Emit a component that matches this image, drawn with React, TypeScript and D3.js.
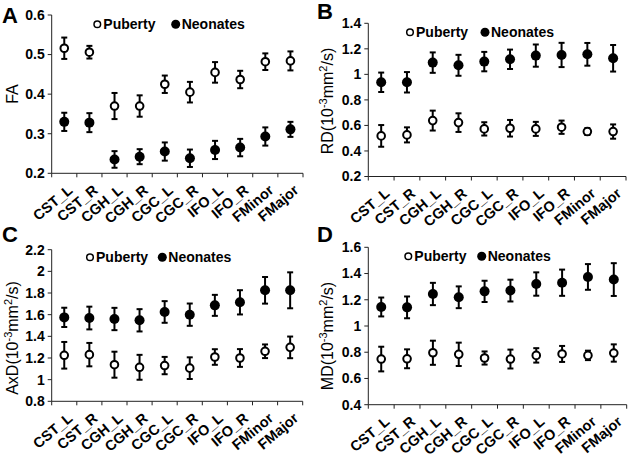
import React from "react";
import * as d3 from "d3";

const categories = ["CST_L", "CST_R", "CGH_L", "CGH_R", "CGC_L", "CGC_R", "IFO_L", "IFO_R", "FMinor", "FMajor"];

// Panel A: FA
const faPuberty = [0.516, 0.506, 0.370, 0.370, 0.425, 0.405, 0.455, 0.437, 0.482, 0.484];
const faPubertyErr = [0.027, 0.016, 0.033, 0.027, 0.022, 0.026, 0.026, 0.022, 0.021, 0.024];
const faNeonates = [0.330, 0.328, 0.235, 0.242, 0.255, 0.238, 0.259, 0.265, 0.293, 0.311];
const faNeonatesErr = [0.023, 0.024, 0.021, 0.019, 0.023, 0.022, 0.023, 0.022, 0.023, 0.019];

// Panel B: RD
const rdPuberty = [0.518, 0.526, 0.638, 0.622, 0.573, 0.578, 0.573, 0.586, 0.552, 0.552];
const rdPubertyErr = [0.085, 0.059, 0.078, 0.073, 0.052, 0.065, 0.055, 0.052, 0.027, 0.056];
const rdNeonates = [0.938, 0.938, 1.092, 1.071, 1.100, 1.118, 1.147, 1.152, 1.157, 1.126];
const rdNeonatesErr = [0.076, 0.080, 0.080, 0.082, 0.076, 0.076, 0.087, 0.095, 0.089, 0.104];

// Panel C: AxD
const axdPuberty = [1.225, 1.231, 1.138, 1.114, 1.130, 1.106, 1.209, 1.200, 1.262, 1.298];
const axdPubertyErr = [0.123, 0.108, 0.120, 0.115, 0.080, 0.100, 0.072, 0.082, 0.063, 0.100];
const axdNeonates = [1.575, 1.569, 1.560, 1.548, 1.625, 1.600, 1.686, 1.714, 1.825, 1.825];
const axdNeonatesErr = [0.089, 0.105, 0.103, 0.103, 0.100, 0.103, 0.097, 0.112, 0.123, 0.166];

// Panel D: MD
const mdPuberty = [0.748, 0.750, 0.796, 0.784, 0.756, 0.748, 0.776, 0.787, 0.776, 0.794];
const mdPubertyErr = [0.094, 0.072, 0.092, 0.089, 0.050, 0.072, 0.055, 0.061, 0.036, 0.066];
const mdNeonates = [1.145, 1.142, 1.244, 1.219, 1.264, 1.270, 1.320, 1.330, 1.374, 1.354];
const mdNeonatesErr = [0.072, 0.083, 0.085, 0.083, 0.081, 0.083, 0.089, 0.100, 0.098, 0.125];

const legendLabels = ["Puberty", "Neonates"];

const FONT = "'Liberation Sans', Arial, sans-serif";

type PanelProps = {
  letter: string;
  x0: number; x1: number; yTop: number; yBot: number;
  domain: [number, number];
  step: number;
  label: string;
  sup: boolean;
  labelX: number; labelY: number;
  puberty: number[]; pubertyErr: number[];
  neonates: number[]; neonatesErr: number[];
  legendX: number; legendY: number; legendGap: number;
  letterX: number; letterY: number;
};

function Panel(p: PanelProps) {
  const x = d3.scaleBand<string>().domain(categories).range([p.x0, p.x1]);
  const y = d3.scaleLinear().domain(p.domain).range([p.yBot, p.yTop]);
  const n = Math.round((p.domain[1] - p.domain[0]) / p.step);
  const ticks = d3.range(n + 1).map((i) => +(p.domain[0] + i * p.step).toFixed(2));
  const fmt = (v: number) => String(+v.toFixed(1));
  const boundaries = d3.range(categories.length + 1).map((i) => p.x0 + i * x.bandwidth());
  const cap = 3;

  const errBars = (vals: number[], errs: number[]) =>
    vals.map((v, i) => {
      const cx = (x(categories[i]) as number) + x.bandwidth() / 2;
      const hi = y(v + errs[i]);
      const lo = y(v - errs[i]);
      return (
        <g key={i} stroke="#000" strokeWidth={2}>
          <line x1={cx} x2={cx} y1={hi} y2={lo} />
          <line x1={cx - cap} x2={cx + cap} y1={hi} y2={hi} />
          <line x1={cx - cap} x2={cx + cap} y1={lo} y2={lo} />
        </g>
      );
    });

  return (
    <g>
      <text x={p.letterX} y={p.letterY} fontFamily={FONT} fontWeight="bold" fontSize={22}>{p.letter}</text>
      {/* y axis */}
      <line x1={p.x0} x2={p.x0} y1={p.yTop} y2={p.yBot} stroke="#222" strokeWidth={1} />
      {ticks.map((t) => (
        <g key={t}>
          <line x1={p.x0 - 4} x2={p.x0} y1={y(t)} y2={y(t)} stroke="#222" strokeWidth={1} />
          <text x={p.x0 - 7} y={y(t)} dy="0.35em" textAnchor="end" fontFamily={FONT} fontWeight="bold" fontSize={14}>{fmt(t)}</text>
        </g>
      ))}
      {/* x axis */}
      <line x1={p.x0} x2={p.x1} y1={p.yBot} y2={p.yBot} stroke="#222" strokeWidth={1} />
      {boundaries.map((bx, i) => (
        <line key={i} x1={bx} x2={bx} y1={p.yBot} y2={p.yBot + 4} stroke="#222" strokeWidth={1} />
      ))}
      {categories.map((c) => {
        const cx = (x(c) as number) + x.bandwidth() / 2;
        return (
          <text key={c} transform={`translate(${cx + 6},${p.yBot + 14.5}) rotate(-40)`} dy="0.35em" textAnchor="end"
            fontFamily={FONT} fontWeight="bold" fontSize={14.5}>{c}</text>
        );
      })}
      {/* y label */}
      <text transform={`translate(${p.labelX},${p.labelY}) rotate(-90)`} dy="0.35em" textAnchor="middle" fontFamily={FONT} fontSize={16}>
        {p.sup ? (
          <>
            {p.label}(10<tspan dy="-6" fontSize={11}>-3</tspan><tspan dy="6">mm</tspan><tspan dy="-6" fontSize={11}>2</tspan><tspan dy="6">/s)</tspan>
          </>
        ) : p.label}
      </text>
      {/* data */}
      {errBars(p.neonates, p.neonatesErr)}
      {errBars(p.puberty, p.pubertyErr)}
      {p.neonates.map((v, i) => (
        <circle key={"n" + i} cx={(x(categories[i]) as number) + x.bandwidth() / 2} cy={y(v)} r={5} fill="#000" />
      ))}
      {p.puberty.map((v, i) => (
        <circle key={"p" + i} cx={(x(categories[i]) as number) + x.bandwidth() / 2} cy={y(v)} r={3.8} fill="#fff" stroke="#000" strokeWidth={2} />
      ))}
      {/* legend */}
      <circle cx={p.legendX} cy={p.legendY} r={3.3} fill="#fff" stroke="#000" strokeWidth={1.5} />
      <text x={p.legendX + 6} y={p.legendY} dy="0.35em" fontFamily={FONT} fontWeight="bold" fontSize={14}>{legendLabels[0]}</text>
      <circle cx={p.legendX + p.legendGap} cy={p.legendY} r={4.5} fill="#000" />
      <text x={p.legendX + p.legendGap + 6} y={p.legendY} dy="0.35em" fontFamily={FONT} fontWeight="bold" fontSize={14}>{legendLabels[1]}</text>
    </g>
  );
}

export default function App() {
  return (
    <svg width={630} height={457} style={{ position: "absolute", left: 0, top: 0, background: "#fff" }}>
      <rect width={630} height={457} fill="#fff" />
      <Panel letter="A" letterX={2} letterY={23} x0={51.7} x1={303} yTop={15} yBot={173.3} domain={[0.2, 0.6]} step={0.1}
        label="FA" sup={false} labelX={12} labelY={94}
        puberty={faPuberty} pubertyErr={faPubertyErr} neonates={faNeonates} neonatesErr={faNeonatesErr}
        legendX={97.3} legendY={24.3} legendGap={78.4} />
      <Panel letter="B" letterX={317} letterY={19} x0={368.3} x1={626} yTop={23.3} yBot={176.5} domain={[0.2, 1.4]} step={0.2}
        label="RD" sup={true} labelX={327} labelY={101}
        puberty={rdPuberty} pubertyErr={rdPubertyErr} neonates={rdNeonates} neonatesErr={rdNeonatesErr}
        legendX={410} legendY={32.3} legendGap={75} />
      <Panel letter="C" letterX={2} letterY={242} x0={51.7} x1={302.7} yTop={249.7} yBot={401.3} domain={[0.8, 2.2]} step={0.2}
        label="AxD" sup={true} labelX={12} labelY={338}
        puberty={axdPuberty} pubertyErr={axdPubertyErr} neonates={axdNeonates} neonatesErr={axdNeonatesErr}
        legendX={90} legendY={257.3} legendGap={72.3} />
      <Panel letter="D" letterX={317} letterY={242} x0={368.3} x1={626.7} yTop={247.3} yBot={404.7} domain={[0.4, 1.6]} step={0.2}
        label="MD" sup={true} labelX={327} labelY={336}
        puberty={mdPuberty} pubertyErr={mdPubertyErr} neonates={mdNeonates} neonatesErr={mdNeonatesErr}
        legendX={408.3} legendY={256.3} legendGap={73.4} />
    </svg>
  );
}
